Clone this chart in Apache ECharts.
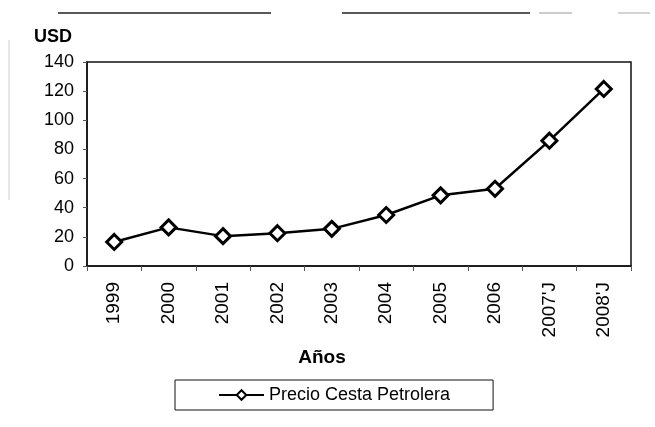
<!DOCTYPE html>
<html><head><meta charset="utf-8">
<script src="https://cdn.jsdelivr.net/npm/echarts@6/dist/echarts.min.js"></script>
<style>html,body{margin:0;padding:0;background:#fff}#c{width:655px;height:427px}</style>
</head><body><div id="c"></div>
<script>
const categories = ['1999','2000','2001','2002','2003','2004','2005','2006',"2007'J","2008'J"];
const precio = [16.5, 26.5, 20.5, 22.5, 25.5, 35, 48.5, 53, 86, 121.5];
const seriesName = 'Precio Cesta Petrolera';
const yTicks = {min: 0, max: 140, interval: 20};

const chart = echarts.init(document.getElementById('c'));
chart.setOption({
  backgroundColor: '#fff',
  animation: false,
  textStyle: {fontFamily: 'Liberation Sans, Arial, sans-serif', color: '#000'},
  grid: {left: 87, right: 24, top: 62, bottom: 161, show: true, borderColor: '#111', borderWidth: 1.5, backgroundColor: 'transparent'},
  graphic: [
    {type: 'line', shape: {x1: 58, y1: 13, x2: 271, y2: 13}, style: {stroke: '#222', lineWidth: 1.5}},
    {type: 'line', shape: {x1: 342, y1: 13, x2: 530, y2: 13}, style: {stroke: '#222', lineWidth: 1.5}},
    {type: 'line', shape: {x1: 539, y1: 13, x2: 572, y2: 13}, style: {stroke: '#999', lineWidth: 1}},
    {type: 'line', shape: {x1: 618, y1: 13, x2: 650, y2: 13}, style: {stroke: '#aaa', lineWidth: 1}},
    {type: 'line', shape: {x1: 9, y1: 40, x2: 9, y2: 200}, style: {stroke: '#ccc', lineWidth: 1}}
  ],
  legend: {
    left: 175, top: 380, data: [seriesName],
    borderColor: '#111', borderWidth: 1, padding: [6, 43, 6, 43],
    itemWidth: 45, itemHeight: 12, itemGap: 4,
    textStyle: {fontSize: 18, color: '#000', fontFamily: 'Liberation Sans, Arial, sans-serif'}
  },
  xAxis: {
    type: 'category', data: categories, boundaryGap: true,
    name: 'Años', nameLocation: 'middle', nameGap: 82,
    nameTextStyle: {fontSize: 19, fontWeight: 'bold', color: '#000', padding: [0, 74, 0, 0]},
    axisLine: {lineStyle: {color: '#111', width: 1.5}},
    axisTick: {show: true, length: 5, lineStyle: {color: '#555'}},
    axisLabel: {rotate: 90, fontSize: 19, color: '#000', margin: 16}
  },
  yAxis: {
    type: 'value', min: yTicks.min, max: yTicks.max, interval: yTicks.interval,
    name: 'USD', nameLocation: 'end', nameGap: 16,
    nameTextStyle: {fontSize: 18, fontWeight: 'bold', color: '#000', align: 'right', padding: [0, 15, 0, 0]},
    axisLine: {show: true, lineStyle: {color: '#111', width: 1.5}},
    axisTick: {show: true, length: 4, lineStyle: {color: '#555'}},
    splitLine: {show: false},
    axisLabel: {fontSize: 18, color: '#000', margin: 13}
  },
  series: [{
    name: seriesName, type: 'line', data: precio,
    symbol: 'diamond', symbolSize: 15,
    lineStyle: {color: '#000', width: 2.5},
    itemStyle: {color: '#fff', borderColor: '#000', borderWidth: 3}
  }]
});
</script></body></html>
